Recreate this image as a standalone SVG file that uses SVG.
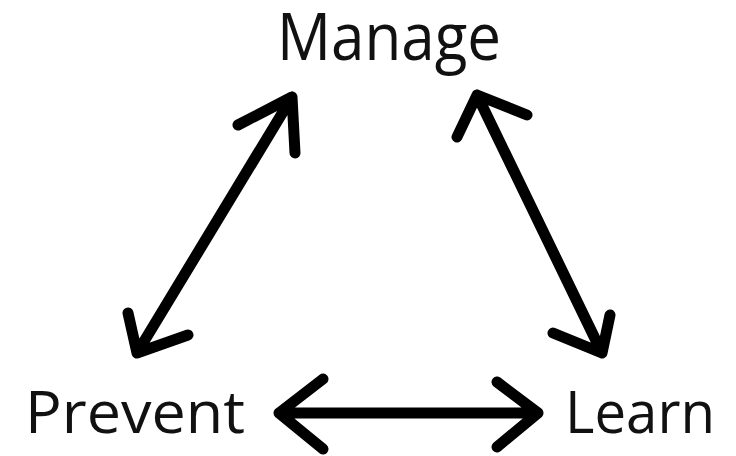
<svg xmlns="http://www.w3.org/2000/svg" width="736" height="456" viewBox="0 0 736 456">
<style>
.lbl{font-family:"Open Sans","Liberation Sans",sans-serif;fill:#111;}
.ar{fill:none;stroke:#000;stroke-width:11;stroke-linecap:round;stroke-linejoin:round;}
</style>
<rect width="736" height="456" fill="#fff"/>
<g id="manage"><text class="lbl" x="277" y="60" font-size="66" textLength="224" lengthAdjust="spacingAndGlyphs">Manage</text></g>
<g id="prevent"><text class="lbl" x="25" y="433" font-size="58" textLength="220" lengthAdjust="spacingAndGlyphs">Prevent</text></g>
<g id="learn"><text class="lbl" x="565" y="433" font-size="58" textLength="150" lengthAdjust="spacingAndGlyphs">Learn</text></g>
<g id="connectors">
<path class="ar" d="M292,97 L137,353 M238,125 L292,97 L295,153 M128,313 L137,353 L188,335"/>
<path class="ar" d="M477,95 L602,353 M457,137 L477,95 L527,115 M610,315 L602,353 L553,333"/>
<path class="ar" d="M279,413 L538,413 M323,379 L279,413 L323,449 M497,382 L538,413 L497,447"/>
</g>
</svg>
